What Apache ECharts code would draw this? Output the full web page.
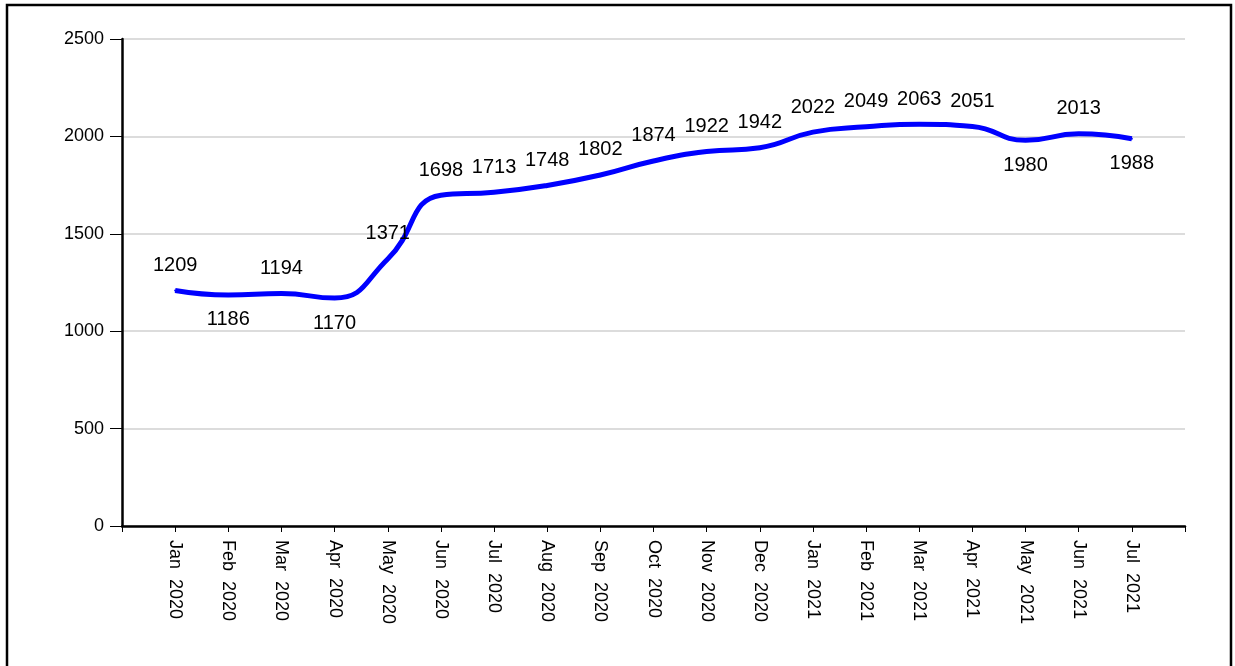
<!DOCTYPE html>
<html>
<head>
<meta charset="utf-8">
<script src="https://cdn.jsdelivr.net/npm/echarts@6/dist/echarts.min.js"></script>
<style>
html,body{margin:0;padding:0;background:#fff;}
#c{width:1235px;height:666px;}
</style>
</head>
<body>
<div id="c"></div>
<script>
var months = ['Jan  2020','Feb  2020','Mar  2020','Apr  2020','May  2020','Jun  2020','Jul  2020','Aug  2020','Sep  2020','Oct  2020','Nov  2020','Dec  2020','Jan  2021','Feb  2021','Mar  2021','Apr  2021','May  2021','Jun  2021','Jul  2021'];
var values = [1209,1186,1194,1170,1371,1698,1713,1748,1802,1874,1922,1942,2022,2049,2063,2051,1980,2013,1988];
var labelsBelow = ['Feb  2020','Apr  2020','May  2021','Jul  2021'];
var yTicks = [0,500,1000,1500,2000,2500];

var axisCats = [''].concat(months).concat(['']);
var seriesData = ['-'].concat(values.map(function(v,i){
  var below = labelsBelow.indexOf(months[i]) >= 0;
  return {value: v, label: {show:true, position: below ? 'bottom' : 'top'}};
})).concat(['-']);

var chart = echarts.init(document.getElementById('c'), null, {renderer:'canvas'});
chart.setOption({
  backgroundColor:'#fff',
  animation:false,
  graphic:[{type:'rect',shape:{x:7,y:5,width:1224,height:700},style:{fill:null,stroke:'#000',lineWidth:2.5},silent:true,z:100}],
  grid:{left:122,right:50,top:39,bottom:140,containLabel:false},
  xAxis:{
    type:'category',
    data:axisCats,
    boundaryGap:false,
    axisLine:{lineStyle:{color:'#000',width:2.5}},
    axisTick:{show:true,length:6,interval:0,lineStyle:{color:'#000',width:1}},
    axisLabel:{interval:0,rotate:-90,color:'#000',fontSize:18,fontFamily:'Liberation Sans, Arial, sans-serif',margin:14},
    splitLine:{show:false}
  },
  yAxis:{
    type:'value',
    min:yTicks[0],
    max:yTicks[yTicks.length-1],
    interval:yTicks[1]-yTicks[0],
    axisLine:{show:true,lineStyle:{color:'#000',width:2.5}},
    axisTick:{show:true,length:12,lineStyle:{color:'#000',width:1}},
    axisLabel:{color:'#000',fontSize:18,fontFamily:'Liberation Sans, Arial, sans-serif',margin:18,formatter:function(v){return String(v);}},
    splitLine:{show:true,lineStyle:{color:'#dcdcdc',width:2}}
  },
  series:[{
    type:'line',
    data:seriesData,
    smooth:0.5,
    symbol:'circle',
    symbolSize:2,
    showSymbol:true,
    showAllSymbol:true,
    itemStyle:{color:'#0000ff',borderWidth:0},
    connectNulls:false,
    lineStyle:{color:'#0000ff',width:5},
    label:{show:true,color:'#000',fontSize:20,fontFamily:'Liberation Sans, Arial, sans-serif',distance:14}
  }]
});
</script>
</body>
</html>
